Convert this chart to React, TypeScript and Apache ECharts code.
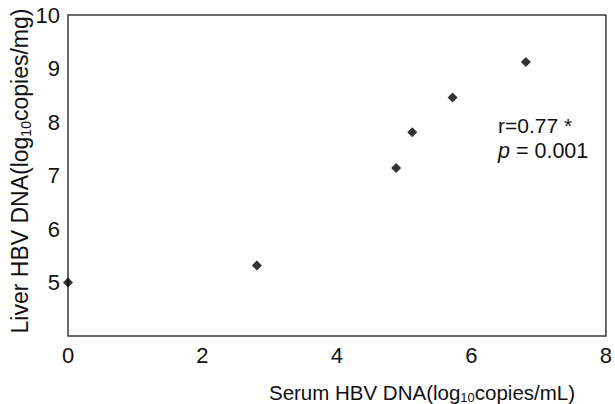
import React, { useEffect, useRef } from "react";
import * as echarts from "echarts";

const serumDNA = [0.0, 2.81, 4.88, 5.12, 5.72, 6.81];
const liverDNA = [5.0, 5.32, 7.14, 7.81, 8.46, 9.12];
const xTicks = [0, 2, 4, 6, 8];
const yTicks = [5, 6, 7, 8, 9, 10];
const statLine1 = "r=0.77 *";
const statP = "p";
const statLine2 = " = 0.001";

const FONT = "'Liberation Sans', Arial, sans-serif";

export default function App() {
  const ref = useRef<HTMLDivElement>(null);
  useEffect(() => {
    if (!ref.current) return;
    const chart = echarts.init(ref.current, undefined, { renderer: "svg" });
    const data = serumDNA.map((x, i) => [x, liverDNA[i]]);
    chart.setOption({
      animation: false,
      textStyle: { fontFamily: FONT },
      grid: {
        left: 68,
        right: 3,
        top: 15,
        bottom: 68,
        show: true,
        borderColor: "#3a3a3a",
        borderWidth: 1.5,
        backgroundColor: "transparent",
      },
      xAxis: {
        type: "value",
        min: 0,
        max: 8,
        interval: 2,
        axisLine: { show: false },
        axisTick: { show: false },
        splitLine: { show: false },
        axisLabel: {
          color: "#111",
          fontSize: 22,
          fontFamily: FONT,
          margin: 8,
          formatter: (v: number) => (xTicks.includes(v) ? String(v) : ""),
        },
      },
      yAxis: {
        type: "value",
        min: 4,
        max: 10,
        interval: 1,
        axisLine: { show: false },
        axisTick: { show: false },
        splitLine: { show: false },
        axisLabel: {
          color: "#111",
          fontSize: 22,
          fontFamily: FONT,
          margin: 8,
          formatter: (v: number) => (yTicks.includes(v) ? String(v) : ""),
        },
      },
      series: [
        {
          type: "scatter",
          data,
          symbol: "diamond",
          symbolSize: 10,
          itemStyle: { color: "#000" },
        },
      ],
      graphic: [
        {
          type: "text",
          x: 422,
          y: 392,
          style: {
            text: "{a|Serum HBV DNA(log}{s|10}{a|copies/mL)}",
            align: "center",
            verticalAlign: "middle",
            rich: {
              a: { fontSize: 20.5, fontFamily: FONT, fill: "#111", color: "#111" },
              s: { fontSize: 13, fontFamily: FONT, fill: "#111", color: "#111", padding: [10, 0, 0, 0] },
            },
          },
        },
        {
          type: "text",
          x: 20,
          y: 171,
          rotation: Math.PI / 2,
          style: {
            text: "{a|Liver HBV DNA(log}{s|10}{a|copies/mg)}",
            align: "center",
            verticalAlign: "middle",
            rich: {
              a: { fontSize: 23, fontFamily: FONT, fill: "#111", color: "#111" },
              s: { fontSize: 14, fontFamily: FONT, fill: "#111", color: "#111", padding: [11, 0, 0, 0] },
            },
          },
        },
        {
          type: "text",
          x: 498,
          y: 125,
          style: {
            text: statLine1,
            fontSize: 21,
            fontFamily: FONT,
            fill: "#111",
            verticalAlign: "middle",
          },
        },
        {
          type: "text",
          x: 498,
          y: 151,
          style: {
            text: "{i|" + statP + "}{n|" + statLine2 + "}",
            verticalAlign: "middle",
            rich: {
              i: { fontSize: 21.5, fontFamily: FONT, fontStyle: "italic", fill: "#111", color: "#111" },
              n: { fontSize: 21.5, fontFamily: FONT, fill: "#111", color: "#111" },
            },
          },
        },
      ],
    });
    return () => chart.dispose();
  }, []);
  return <div ref={ref} style={{ width: 615, height: 404, position: "absolute", left: 0, top: 0 }} />;
}
